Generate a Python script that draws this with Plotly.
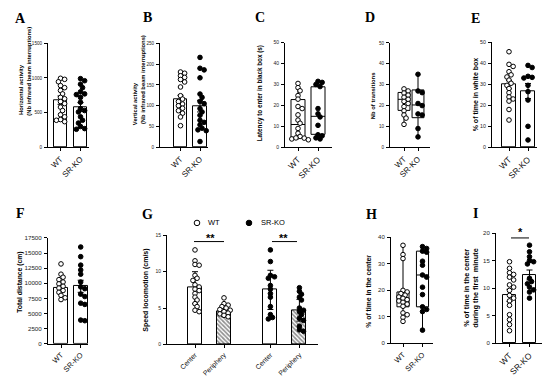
import numpy as np
import plotly.graph_objects as go

W, H = 550, 383

# ---------------- data ----------------
groups = ["WT", "SR-KO"]
g_cats = ["Center", "Periphery", "Center", "Periphery"]

# A: horizontal activity
A_wt = [995, 980, 945, 890, 860, 820, 770, 720, 700, 660, 630, 580, 530, 470, 440, 400, 390, 370]
A_ko = [990, 960, 910, 860, 800, 770, 760, 720, 650, 560, 530, 510, 440, 390, 350, 300, 270, 260]
A_mean = [680, 580]
A_err = [60, 65]

# B: vertical activity
B_wt = [181, 178, 172, 168, 163, 157, 145, 124, 116, 110, 104, 100, 94, 88, 82, 73, 52]
B_ko = [216, 190, 186, 167, 128, 120, 110, 105, 93, 85, 77, 65, 60, 54, 46, 42, 40, 14]
B_mean = [115, 99]
B_err = [10, 14]

# C: latency to enter black box (box plot)
C_wt = [30.5, 28.5, 27, 24.7, 23, 19.5, 18.5, 15.5, 13, 11.5, 9, 6.7, 5.2, 4.4, 4, 3.6, 4.5]
C_ko = [31.5, 31, 30, 29, 18.5, 16, 14.5, 10.5, 6, 5.5, 4.5, 4]
C_q1 = [4.8, 6.2]
C_med = [10.9, 14.8]
C_q3 = [22.8, 28.9]
C_lo = [3.6, 4.0]
C_hi = [30.5, 31.5]

# D: number of transitions (box plot)
D_wt = [28, 27, 26, 25, 24, 23, 22, 21, 19.5, 17.5, 15.5, 14, 11]
D_ko = [35, 27, 26.2, 21, 20, 16, 15.5, 9, 5]
D_q1 = [17.7, 14.2]
D_med = [23, 20.3]
D_q3 = [26.3, 27.5]
D_lo = [11, 5]
D_hi = [28.3, 35]

# E: % of time in white box
E_wt = [45.5, 39.5, 38.5, 36, 34.5, 33.5, 32, 30.5, 29.5, 28, 26, 24, 23, 22, 18, 13]
E_ko = [39, 38, 33.8, 33.3, 33, 29.5, 26.5, 22.5, 10, 3.5]
E_mean = [29.9, 26.8]
E_err = [2.0, 3.6]

# F: total distance
F_wt = [13200, 11500, 11000, 10600, 10200, 9900, 9500, 9200, 8800, 8500, 8000, 7600, 7300]
F_ko = [16000, 14400, 13000, 12200, 11500, 10200, 9400, 9100, 8200, 7800, 6700, 6500, 3900, 3800]
F_mean = [9200, 9500]
F_err = [480, 1000]

# G: speed of locomotion
G_wt_center = [13, 11.5, 11, 10.9, 9.5, 9.1, 8.8, 8.2, 7.9, 7.6, 7.4, 7, 6.5, 6.1, 5.6, 5.2, 4.7, 4.5]
G_wt_periph = [6.4, 5.6, 5.4, 5.2, 5.0, 4.8, 4.7, 4.5, 4.3, 4.2, 4.0, 3.8]
G_ko_center = [13, 11.4, 9.5, 9.3, 9.1, 8.1, 7.6, 7, 6.5, 5.2, 4.1, 3.7, 3.5]
G_ko_periph = [7.8, 7.3, 6.9, 6.5, 6.1, 5.0, 4.7, 4.5, 4.1, 3.6, 3.3, 2.5, 2.0, 1.8]
G_mean = [7.8, 4.6, 7.5, 4.7]
G_err = [2.2, 0.8, 2.7, 1.5]

# H: % of time in the center (box plot)
H_wt = [37, 33.5, 32, 20, 19.4, 18.8, 18.2, 17.5, 17, 16.5, 16, 15.5, 14.8, 14, 11.5, 10.8, 9.8, 8.3]
H_ko = [36.5, 35.8, 34.8, 34.4, 31, 29.5, 25.8, 25, 21.2, 18.4, 13.8, 12.8, 12, 5]
H_q1 = [13.8, 13.8]
H_med = [17.2, 25.8]
H_q3 = [19.4, 34.8]
H_lo = [8.3, 5.0]
H_hi = [37, 36.5]

# I: % of time in the center during the first minute
I_wt = [14.8, 13.6, 12.8, 12.5, 12, 11.5, 10.6, 10.2, 9.6, 8.7, 8.2, 7.7, 6.9, 5.2, 4.3, 3.4, 2.3]
I_ko = [17.8, 16.6, 15.7, 15, 14.8, 14.4, 11.8, 11.2, 10.8, 10.2, 9.7, 9.3, 8.2]
I_mean = [8.7, 12.4]
I_err = [1.1, 0.9]

# ---------------- helpers ----------------
FONT = "Liberation Sans"
fig = go.Figure()
annotations = []
shapes = []


def px_x(x):
    return x / W


def px_y(y):
    return 1 - y / H


def names(n):
    s = "" if n == 1 else str(n)
    return "xaxis" + s, "yaxis" + s, "x" + s, "y" + s


def setup(n, x0, x1, y0, y1, first_px, unit_px, pos, labels, ymax, dtick,
          ytf, xtf):
    xa, ya, xr, yr = names(n)
    xrange = [-(first_px - x0) / unit_px, (x1 - first_px) / unit_px]
    fig.layout[xa] = dict(
        domain=[px_x(x0), px_x(x1)], range=xrange, anchor=yr,
        showline=True, linecolor="black", linewidth=1, mirror=False,
        ticks="outside", ticklen=3, tickwidth=1, tickcolor="black",
        tickvals=pos, ticktext=labels, tickangle=-45,
        tickfont=dict(family=FONT, size=xtf, color="#111"),
        showgrid=False, zeroline=False, fixedrange=True)
    fig.layout[ya] = dict(
        domain=[px_y(y1), px_y(y0)], range=[0, ymax], anchor=xr,
        showline=True, linecolor="black", linewidth=1,
        ticks="outside", ticklen=3, tickwidth=1, tickcolor="black",
        tick0=0, dtick=dtick, ticklabelstandoff=1, tickformat="d",
        tickfont=dict(family=FONT, size=ytf, color="#222"),
        showgrid=False, zeroline=False, fixedrange=True)
    return xr, yr, (y1 - y0) / ymax, unit_px


def swarm(vals, ypu, xpu, d=4.6):
    vals = np.asarray(vals, dtype=float)
    order = np.argsort(-vals, kind="stable")
    placed = []
    offs = np.zeros(len(vals))
    steps = [0]
    for k in range(1, 12):
        steps += [k, -k]
    for i in order:
        y = vals[i] * ypu
        xo = 0.0
        for k in steps:
            xo = k * d * 0.45
            if all((xo - px) ** 2 + (y - py) ** 2 >= (d * 0.78) ** 2
                   for px, py in placed):
                break
        placed.append((xo, y))
        offs[i] = xo / xpu
    return offs


def points(xr, yr, x, vals, filled, ypu, xpu, size=4.6):
    offs = swarm(vals, ypu, xpu, d=size)
    fig.add_trace(go.Scatter(
        x=x + offs, y=vals, mode="markers", xaxis=xr, yaxis=yr,
        cliponaxis=False, showlegend=False, hoverinfo="skip",
        marker=dict(size=size, color="black" if filled else "white",
                    line=dict(color="black", width=1))))


def bars(xr, yr, pos, means, errs, width, patterns=None):
    marker = dict(color="white", line=dict(color="black", width=1))
    if patterns is not None:
        marker["pattern"] = dict(shape=patterns, fgcolor="#222",
                                 bgcolor="white", size=3, solidity=0.55)
    fig.add_trace(go.Bar(
        x=pos, y=means, width=width, xaxis=xr, yaxis=yr, marker=marker,
        showlegend=False, hoverinfo="skip",
        error_y=dict(type="data", array=errs, color="black", thickness=1,
                     width=3)))


def box(xr, yr, pos, q1, med, q3, lo, hi, width):
    fig.add_trace(go.Box(
        x=pos, q1=q1, median=med, q3=q3, lowerfence=lo, upperfence=hi,
        width=width, xaxis=xr, yaxis=yr, fillcolor="white",
        line=dict(color="black", width=1), whiskerwidth=0,
        boxpoints=False, showlegend=False, hoverinfo="skip"))


def ytitle(x, y, text, size):
    annotations.append(dict(
        x=px_x(x), y=px_y(y), xref="paper", yref="paper", text=text,
        textangle=-90, showarrow=False, xanchor="center", yanchor="middle",
        font=dict(family=FONT, size=size, color="black", weight="bold")))


def letter(x, y, t):
    annotations.append(dict(
        x=px_x(x), y=px_y(y), xref="paper", yref="paper", text=t,
        showarrow=False, xanchor="center", yanchor="middle",
        font=dict(family="Liberation Serif", size=14, color="black",
                  weight="bold")))


two = [0, 1]

# ---------------- panel A ----------------
xr, yr, ypu, xpu = setup(1, 48, 89, 40, 146, 60.5, 20, two, groups, 1500, 500, 4.6, 8)
bars(xr, yr, two, A_mean, A_err, 0.65)
points(xr, yr, 0, A_wt, False, ypu, xpu)
points(xr, yr, 1, A_ko, True, ypu, xpu)
ytitle(21.5, 87, "Horizontal activity", 5.8)
ytitle(29, 69, "(Nb infrared beam interruptions)", 5.8)
letter(20.5, 15, "A")

# ---------------- panel B ----------------
xr, yr, ypu, xpu = setup(2, 160, 208, 40, 146, 180.5, 19.5, two, groups, 250, 50, 4.6, 8)
bars(xr, yr, two, B_mean, B_err, 0.67)
points(xr, yr, 0, B_wt, False, ypu, xpu)
points(xr, yr, 1, B_ko, True, ypu, xpu)
ytitle(135, 102, "Vertical activity", 5.8)
ytitle(142.5, 77, "(Nb infrared beam interruptions)", 5.8)
letter(147, 14, "B")

# ---------------- panel C ----------------
xr, yr, ypu, xpu = setup(3, 285, 332, 39.3, 146, 298, 20, two, groups, 50, 10, 5, 8.5)
box(xr, yr, two, C_q1, C_med, C_q3, C_lo, C_hi, 0.7)
points(xr, yr, 0, C_wt, False, ypu, xpu)
points(xr, yr, 1, C_ko, True, ypu, xpu)
ytitle(260, 91, "Latency to enter in black box (s)", 6.3)
letter(260, 14, "C")

# ---------------- panel D ----------------
xr, yr, ypu, xpu = setup(4, 390, 430, 39.7, 146, 404, 14, two, groups, 50, 10, 4.6, 8)
box(xr, yr, two, D_q1, D_med, D_q3, D_lo, D_hi, 0.85)
points(xr, yr, 0, D_wt, False, ypu, xpu)
points(xr, yr, 1, D_ko, True, ypu, xpu)
ytitle(373, 93, "Nb of transitions", 5.9)
letter(370, 14, "D")

# ---------------- panel E ----------------
xr, yr, ypu, xpu = setup(5, 492, 537, 39, 146, 509, 19, two, groups, 50, 10, 5.3, 8.5)
bars(xr, yr, two, E_mean, E_err, 0.74)
points(xr, yr, 0, E_wt, False, ypu, xpu)
points(xr, yr, 1, E_ko, True, ypu, xpu)
ytitle(475, 92, "% of time in white box", 7)
letter(475, 15, "E")

# ---------------- panel F ----------------
xr, yr, ypu, xpu = setup(6, 48, 88, 238.3, 346, 61, 19.7, two, groups, 17500, 2500, 6.2, 7.5)
bars(xr, yr, two, F_mean, F_err, 0.7)
points(xr, yr, 0, F_wt, False, ypu, xpu)
points(xr, yr, 1, F_ko, True, ypu, xpu)
ytitle(20, 284, "Total distance (cm)", 6.8)
letter(20, 213, "F")

# ---------------- panel G ----------------
g_pos = [0, 1, 2.6, 3.6]
xr, yr, ypu, xpu = setup(7, 167, 318, 235.7, 346.7, 195, 29, g_pos, g_cats, 15, 5, 5, 6.8)
bars(xr, yr, g_pos, G_mean, G_err, 0.48, patterns=["", "\\", "", "\\"])
points(xr, yr, g_pos[0], G_wt_center, False, ypu, xpu)
points(xr, yr, g_pos[1], G_wt_periph, False, ypu, xpu)
points(xr, yr, g_pos[2], G_ko_center, True, ypu, xpu)
points(xr, yr, g_pos[3], G_ko_periph, True, ypu, xpu)
ytitle(146, 292, "Speed locomotion (cm/s)", 7)
letter(147, 214, "G")
# legend
for cx, fill, lab, tx in [(197, "white", "WT", 214), (249, "black", "SR-KO", 273)]:
    shapes.append(dict(type="circle", xref="paper", yref="paper",
                       x0=px_x(cx - 2.8), x1=px_x(cx + 2.8),
                       y0=px_y(223 + 2.8), y1=px_y(223 - 2.8),
                       fillcolor=fill, line=dict(color="black", width=1)))
    annotations.append(dict(x=px_x(tx), y=px_y(223), xref="paper", yref="paper",
                            text=lab, showarrow=False, xanchor="center",
                            yanchor="middle",
                            font=dict(family=FONT, size=7.5, color="black")))
# significance
for xa, xb, xs in [(194, 224, 210), (272, 297, 283)]:
    shapes.append(dict(type="line", xref="paper", yref="paper",
                       x0=px_x(xa), x1=px_x(xb), y0=px_y(242), y1=px_y(242),
                       line=dict(color="black", width=1)))
    annotations.append(dict(x=px_x(xs), y=px_y(238.5), xref="paper", yref="paper",
                            text="**", showarrow=False, xanchor="center",
                            yanchor="middle",
                            font=dict(family=FONT, size=11, color="black",
                                      weight="bold")))

# ---------------- panel H ----------------
xr, yr, ypu, xpu = setup(8, 391, 433, 237.7, 345.7, 403, 19.5, two, groups, 40, 10, 6, 7.5)
box(xr, yr, two, H_q1, H_med, H_q3, H_lo, H_hi, 0.62)
points(xr, yr, 0, H_wt, False, ypu, xpu)
points(xr, yr, 1, H_ko, True, ypu, xpu)
ytitle(369, 293, "% of time in the center", 6.8)
letter(371, 214, "H")

# ---------------- panel I ----------------
xr, yr, ypu, xpu = setup(9, 496, 542, 233.3, 345.7, 509.5, 20, two, groups, 20, 5, 6, 8.5)
bars(xr, yr, two, I_mean, I_err, 0.65)
points(xr, yr, 0, I_wt, False, ypu, xpu)
points(xr, yr, 1, I_ko, True, ypu, xpu)
ytitle(467, 289, "% of time in the center", 7.3)
ytitle(476, 290, "during the first  minute", 7.3)
letter(475, 213, "I")
shapes.append(dict(type="line", xref="paper", yref="paper",
                   x0=px_x(511), x1=px_x(529), y0=px_y(238.3), y1=px_y(238.3),
                   line=dict(color="black", width=1)))
annotations.append(dict(x=px_x(520), y=px_y(232.5), xref="paper", yref="paper",
                        text="*", showarrow=False, xanchor="center",
                        yanchor="middle",
                        font=dict(family=FONT, size=11, color="black",
                                  weight="bold")))

fig.update_layout(
    width=W, height=H, autosize=False,
    margin=dict(l=0, r=0, t=0, b=0, pad=0),
    paper_bgcolor="white", plot_bgcolor="white",
    showlegend=False, bargap=0,
    annotations=annotations, shapes=shapes,
)

fig.write_html("out.html", config={"displayModeBar": False},
               post_script="document.body.style.margin='0';")
